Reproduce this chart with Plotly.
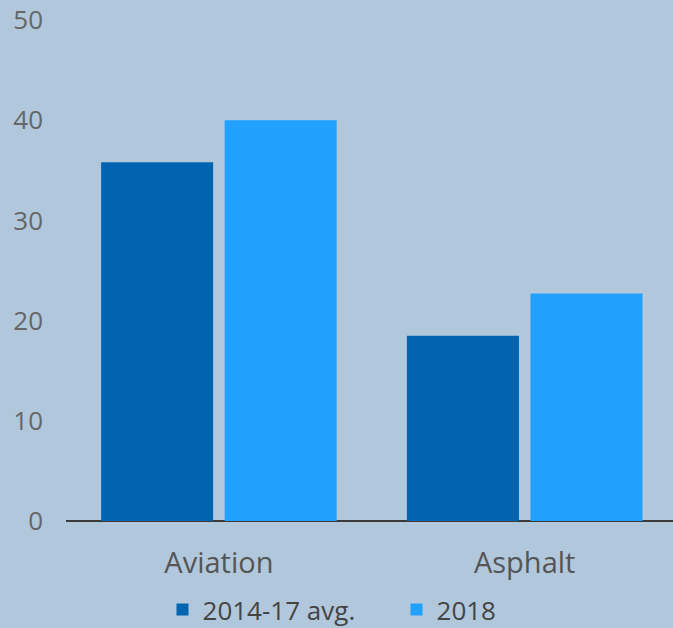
import plotly.graph_objects as go

categories = ["Aviation", "Asphalt"]
series_names = ["2014-17 avg.", "2018"]
avg_2014_17 = [35.8, 18.5]
values_2018 = [40.0, 22.7]
y_ticks = [0, 10, 20, 30, 40, 50]

colors = ["#0064b0", "#22a0ff"]
font_family = "Open Sans, Noto Sans, sans-serif"

fig = go.Figure()
fig.add_trace(go.Bar(x=categories, y=avg_2014_17, name=series_names[0],
                     marker=dict(color=colors[0], line=dict(width=0))))
fig.add_trace(go.Bar(x=categories, y=values_2018, name=series_names[1],
                     marker=dict(color=colors[1], line=dict(width=0))))

fig.update_layout(
    width=673, height=628,
    margin=dict(l=66, r=0, t=20, b=107, pad=0, autoexpand=False),
    paper_bgcolor="#b1c8dc", plot_bgcolor="#b1c8dc",
    barmode="group", bargap=0.192, bargroupgap=0.093,
    font=dict(family=font_family, color="#555555"),
    showlegend=True,
    legend=dict(orientation="h", x=0.5445, xanchor="center", y=-0.13, yanchor="top",
                font=dict(size=26, color="#444444"),
                entrywidth=189, entrywidthmode="pixels",
                bgcolor="rgba(0,0,0,0)"),
    xaxis=dict(range=[-0.5, 1.485], showgrid=False, zeroline=False,
               showline=False, ticks="", ticklabelstandoff=22,
               tickfont=dict(size=29, color="#555555")),
    yaxis=dict(range=[0, 50], tickvals=y_ticks, showgrid=False, zeroline=True,
               zerolinecolor="#3a3a3a", zerolinewidth=2, showline=False,
               ticks="", ticklabelstandoff=22, tickfont=dict(size=26, color="#666666")),
)

fig.write_html("out.html")
